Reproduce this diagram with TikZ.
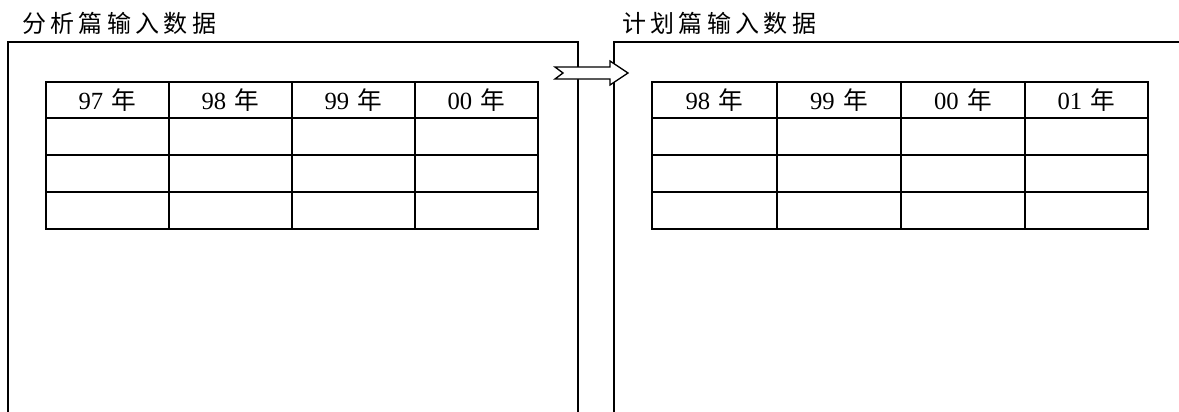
\documentclass[tikz,border=0pt]{standalone}
\usepackage{fontspec}
\setmainfont{Liberation Serif}
\newfontfamily\cjk{Noto Sans CJK SC}
\newfontfamily\cjktitle[LetterSpace=18]{Noto Sans CJK SC}
\newcommand{\nian}[1]{#1\hspace{0.35em}{\cjk 年}}
\begin{document}
\begin{tikzpicture}[x=0.75pt,y=-0.75pt,
  frame/.style={line width=1.7pt},
  grid/.style={line width=1.7pt},
  hdr/.style={font=\fontsize{18.5pt}{20pt}\selectfont, inner sep=0pt},
  ttl/.style={font=\fontsize{18pt}{20pt}\selectfont\cjktitle, inner sep=0pt, anchor=west},
  bigarrow/.style={draw, fill=white, line width=1pt, line join=miter}]
\useasboundingbox (0,0) rectangle (1179,411);
% titles
\node[ttl] (t1) at (22,23) {分析篇输入数据};
\node[ttl] (t2) at (622,23) {计划篇输入数据};
% frames
\draw[frame] (8,413) -- (8,42) -- (578,42) -- (578,413);
\draw[frame] (614,413) -- (614,42) -- (1181,42);
% left table
\draw[grid] (46,82) rectangle (538,229);
\foreach \y in {118,155,192} \draw[grid] (46,\y) -- (538,\y);
\foreach \x in {169,292,415} \draw[grid] (\x,82) -- (\x,229);
\node[hdr] (a1) at (107.5,100) {\nian{97}};
\node[hdr] (a2) at (230.5,100) {\nian{98}};
\node[hdr] (a3) at (353.5,100) {\nian{99}};
\node[hdr] (a4) at (476.5,100) {\nian{00}};
% right table
\draw[grid] (652,82) rectangle (1148,229);
\foreach \y in {118,155,192} \draw[grid] (652,\y) -- (1148,\y);
\foreach \x in {777,901,1025} \draw[grid] (\x,82) -- (\x,229);
\node[hdr] (b1) at (714.5,100) {\nian{98}};
\node[hdr] (b2) at (839,100) {\nian{99}};
\node[hdr] (b3) at (963,100) {\nian{00}};
\node[hdr] (b4) at (1086.5,100) {\nian{01}};
% notched arrow
\draw[bigarrow] (555,67) -- (610,67) -- (610,61) -- (628,73) -- (610,85) -- (610,79) -- (555,79) -- (563,73) -- cycle;
\end{tikzpicture}
\end{document}
